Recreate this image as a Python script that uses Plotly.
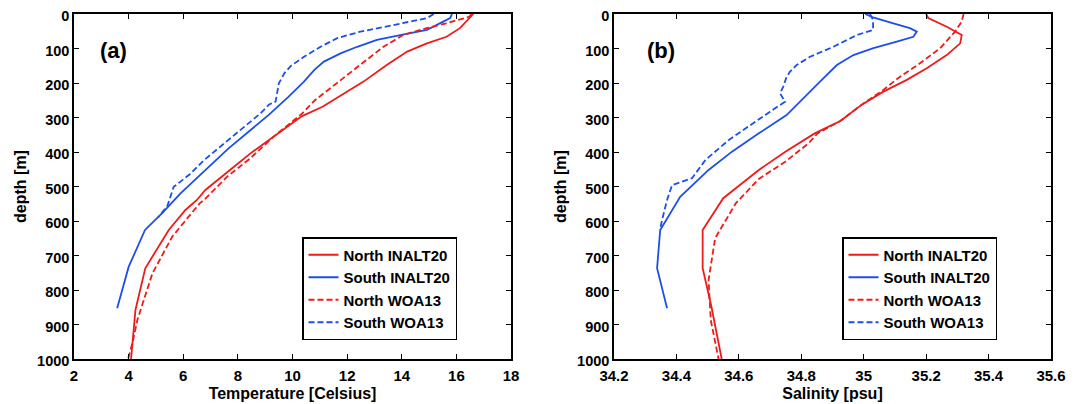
import plotly.graph_objects as go

# ---------------- data: temperature panel (a) ----------------
depth_T_north_inalt = [0, 22, 41, 66, 85, 109, 148, 196, 235, 269, 296, 356, 404, 447, 510, 539, 568, 626, 737, 858, 906, 974, 1000]
temp_north_inalt = [16.62, 16.37, 16.13, 15.64, 14.92, 14.2, 13.45, 12.6, 11.8, 11.1, 10.35, 9.3, 8.46, 7.79, 6.81, 6.5, 6.08, 5.47, 4.61, 4.25, 4.19, 4.13, 4.09]

depth_T_south_inalt = [0, 12, 22, 46, 61, 75, 95, 114, 138, 162, 196, 240, 293, 327, 390, 457, 520, 578, 626, 733, 853]
temp_south_inalt = [15.84, 15.77, 15.52, 14.92, 13.94, 13.09, 12.37, 11.76, 11.15, 10.8, 10.42, 9.85, 9.12, 8.6, 7.65, 6.75, 5.9, 5.22, 4.6, 4.0, 3.58]

depth_T_north_woa = [0, 8, 27, 41, 61, 95, 140, 194, 250, 290, 356, 418, 472, 539, 549, 645, 752, 887, 954, 1000]
temp_north_woa = [16.55, 16.47, 15.63, 14.91, 14.05, 13.33, 12.6, 11.72, 10.82, 10.33, 9.3, 8.46, 7.6, 6.76, 6.6, 5.6, 4.87, 4.32, 4.14, 3.98]

depth_T_south_woa = [0, 12, 32, 51, 70, 95, 124, 150, 172, 201, 254, 262, 288, 327, 375, 423, 464, 501, 534, 556, 590]
temp_south_woa = [15.17, 14.92, 13.7, 12.49, 11.64, 11.03, 10.42, 9.95, 9.7, 9.5, 9.38, 9.15, 8.83, 8.22, 7.5, 6.77, 6.25, 5.65, 5.52, 5.42, 5.08]

# ---------------- data: salinity panel (b) ----------------
depth_S_north_inalt = [0, 12, 37, 61, 85, 119, 157, 191, 225, 262, 310, 346, 399, 452, 534, 626, 737, 848, 1000]
sal_north_inalt = [35.2, 35.207, 35.266, 35.314, 35.309, 35.266, 35.202, 35.138, 35.063, 34.995, 34.925, 34.843, 34.749, 34.664, 34.55, 34.484, 34.484, 34.512, 34.545]

depth_S_south_inalt = [0, 10, 27, 41, 51, 66, 80, 99, 119, 148, 196, 220, 244, 278, 293, 346, 399, 452, 530, 626, 737, 853]
sal_south_inalt = [35.005, 35.03, 35.095, 35.148, 35.17, 35.159, 35.106, 35.031, 34.967, 34.914, 34.86, 34.834, 34.807, 34.77, 34.753, 34.664, 34.578, 34.503, 34.412, 34.348, 34.338, 34.37]

depth_S_north_woa = [0, 22, 51, 99, 143, 186, 222, 262, 310, 346, 375, 428, 478, 549, 650, 771, 887, 1000]
sal_north_woa = [35.32, 35.314, 35.293, 35.245, 35.18, 35.11, 35.06, 34.995, 34.925, 34.852, 34.823, 34.749, 34.664, 34.59, 34.524, 34.503, 34.51, 34.535]

depth_S_south_woa = [0, 17, 46, 61, 95, 124, 148, 167, 182, 211, 230, 254, 283, 317, 365, 423, 476, 496, 539, 597, 626]
sal_south_woa = [35.02, 35.03, 35.03, 34.978, 34.903, 34.828, 34.785, 34.764, 34.753, 34.742, 34.732, 34.748, 34.7, 34.646, 34.568, 34.493, 34.45, 34.386, 34.37, 34.354, 34.347]

series_names = ["North INALT20", "South INALT20", "North WOA13", "South WOA13"]

depth_ticks = [0, 100, 200, 300, 400, 500, 600, 700, 800, 900, 1000]
temp_ticks = [2, 4, 6, 8, 10, 12, 14, 16, 18]
sal_ticks = [34.2, 34.4, 34.6, 34.8, 35.0, 35.2, 35.4, 35.6]
sal_ticktext = ["34.2", "34.4", "34.6", "34.8", "35", "35.2", "35.4", "35.6"]

# ---------------- styling ----------------
RED = "#ee1b1b"
BLUE = "#1d4fe8"
FONT = "Liberation Sans"
LW = 1.8
DASH = "6px,3px"

# The page body has an 8 px margin; the figure is sized and laid out so that
# its content lands where the reference has it inside the 1081x404 window.
W, H, OFF = 1073, 396, 8


def px_x(x):
    return (x - OFF) / W


def px_y(y):
    return 1 - (y - OFF) / H


fig = go.Figure()

panels = [
    ("x", "y", "legend",
     [(temp_north_inalt, depth_T_north_inalt), (temp_south_inalt, depth_T_south_inalt),
      (temp_north_woa, depth_T_north_woa), (temp_south_woa, depth_T_south_woa)]),
    ("x2", "y2", "legend2",
     [(sal_north_inalt, depth_S_north_inalt), (sal_south_inalt, depth_S_south_inalt),
      (sal_north_woa, depth_S_north_woa), (sal_south_woa, depth_S_south_woa)]),
]
styles = [(RED, "solid"), (BLUE, "solid"), (RED, DASH), (BLUE, DASH)]

for xa, ya, lg, data in panels:
    for (xv, yv), name, (col, dash) in zip(data, series_names, styles):
        fig.add_trace(go.Scatter(
            x=xv, y=yv, mode="lines", name=name,
            line=dict(color=col, width=LW, dash=dash),
            xaxis=xa, yaxis=ya, legend=lg,
        ))

axis_common = dict(
    showline=True, linecolor="black", linewidth=1.5, mirror="ticks",
    ticks="inside", ticklen=5, tickwidth=1.3, tickcolor="black",
    showgrid=False, zeroline=False, automargin=False, ticklabeloverflow="allow",
)
x_axis_extra = dict(ticklabelstandoff=2,
                    tickfont=dict(family=FONT, size=15, color="black", weight="bold"))
y_axis_extra = dict(ticklabelshift=-2,
                    tickfont=dict(family=FONT, size=14.5, color="black", weight="bold"))
title_font = dict(family=FONT, size=16, color="black", weight="bold")

x_dom1 = [px_x(74), px_x(511)]
x_dom2 = [px_x(614), px_x(1051)]
y_dom = [px_y(359), px_y(14)]

legend_common = dict(xanchor="left", yanchor="top",
                     bgcolor="white", bordercolor="black", borderwidth=1.5,
                     font=dict(family=FONT, size=15, color="black", weight="bold"),
                     tracegroupgap=0, itemwidth=30)

fig.update_layout(
    width=W, height=H,
    margin=dict(l=0, r=0, t=0, b=0, autoexpand=False),
    paper_bgcolor="white", plot_bgcolor="white",
    xaxis=dict(domain=x_dom1, anchor="y", range=[2, 18], tickvals=temp_ticks,
               title=dict(text="Temperature [Celsius]", font=title_font, standoff=5),
               **axis_common, **x_axis_extra),
    yaxis=dict(domain=y_dom, anchor="x", range=[1000, 0], tickvals=depth_ticks,
               title=dict(text="depth [m]", font=title_font, standoff=6),
               **axis_common, **y_axis_extra),
    xaxis2=dict(domain=x_dom2, anchor="y2", range=[34.2, 35.6], tickvals=sal_ticks, ticktext=sal_ticktext,
                title=dict(text="Salinity [psu]", font=title_font, standoff=5),
                **axis_common, **x_axis_extra),
    yaxis2=dict(domain=y_dom, anchor="x2", range=[1000, 0], tickvals=depth_ticks,
                title=dict(text="depth [m]", font=title_font, standoff=6),
                **axis_common, **y_axis_extra),
    legend=dict(x=px_x(302), y=px_y(237), **legend_common),
    legend2=dict(x=px_x(842), y=px_y(237), **legend_common),
    annotations=[
        dict(text="(a)", x=px_x(113), y=px_y(50), xref="paper", yref="paper",
             xanchor="center", yanchor="middle", showarrow=False,
             font=dict(family=FONT, size=22, color="black", weight="bold")),
        dict(text="(b)", x=px_x(661), y=px_y(50), xref="paper", yref="paper",
             xanchor="center", yanchor="middle", showarrow=False,
             font=dict(family=FONT, size=22, color="black", weight="bold")),
    ],
)

fig.write_html("out.html")
